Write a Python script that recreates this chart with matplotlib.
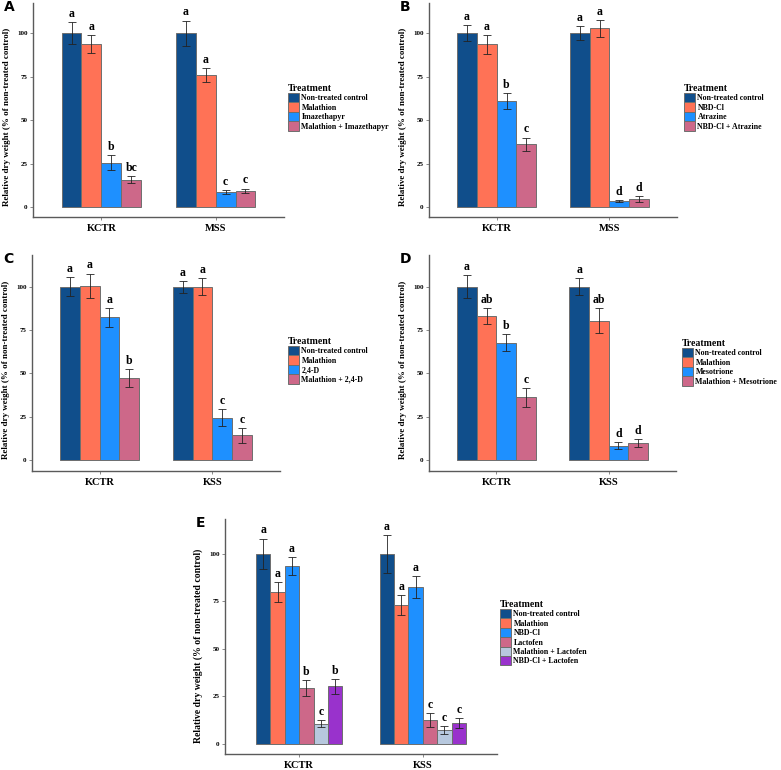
import matplotlib

matplotlib.use("Agg")
import matplotlib.pyplot as plt
import numpy as np
from matplotlib.patches import Patch

plt.rcParams["font.family"] = ["Liberation Serif", "DejaVu Serif"]
plt.rcParams["font.weight"] = "bold"

W, H = 781, 770

# ---- data (values in % of non-treated control) ----
a_sites = ["KCTR", "MSS"]
a_treat = ["Non-treated control", "Malathion", "Imazethapyr", "Malathion + Imazethapyr"]
a_mean = [[100, 94, 25.5, 15.8], [100, 75.8, 8.7, 9.4]]
a_err = [[6.3, 5.3, 4.5, 2.0], [7.4, 4.0, 1.0, 1.2]]
a_lett = [["a", "a", "b", "bc"], ["a", "a", "c", "c"]]

b_sites = ["KCTR", "MSS"]
b_treat = ["Non-treated control", "NBD-Cl", "Atrazine", "NBD-Cl + Atrazine"]
b_mean = [[100, 93.7, 61, 36], [100, 102.9, 3.3, 4.4]]
b_err = [[4.6, 5.5, 4.5, 4.0], [4.0, 5.0, 0.5, 1.8]]
b_lett = [["a", "a", "b", "c"], ["a", "a", "d", "d"]]

c_sites = ["KCTR", "KSS"]
c_treat = ["Non-treated control", "Malathion", "2,4-D", "Malathion + 2,4-D"]
c_mean = [[100, 100.6, 82.3, 47.1], [100, 100, 24.4, 14.4]]
c_err = [[5.5, 7.0, 5.5, 5.2], [3.5, 4.8, 4.8, 4.3]]
c_lett = [["a", "a", "a", "b"], ["a", "a", "c", "c"]]

d_sites = ["KCTR", "KSS"]
d_treat = ["Non-treated control", "Malathion", "Mesotrione", "Malathion + Mesotrione"]
d_mean = [[100, 83.1, 67.8, 36.2], [100, 80.5, 8.4, 9.8]]
d_err = [[6.5, 4.5, 5.0, 5.4], [5.0, 7.3, 1.8, 2.2]]
d_lett = [["a", "ab", "b", "c"], ["a", "ab", "d", "d"]]

e_sites = ["KCTR", "KSS"]
e_treat = ["Non-treated control", "Malathion", "NBD-Cl", "Lactofen",
           "Malathion + Lactofen", "NBD-Cl + Lactofen"]
e_mean = [[100, 79.8, 93.5, 29.3, 10.7, 30.3], [100, 73, 82.5, 12.6, 7.4, 11.1]]
e_err = [[8.0, 5.3, 4.7, 4.2, 2.0, 3.8], [9.8, 5.3, 5.8, 3.7, 2.0, 2.5]]
e_lett = [["a", "a", "a", "b", "c", "b"], ["a", "a", "a", "c", "c", "c"]]

colors = ["#104E8B", "#FF7256", "#1E90FF", "#CD6889", "#B7C8DE", "#9932CC"]
AXIS_COL = "#5a5a5a"


def px_axes(fig, left, top, right, bottom):
    return fig.add_axes([left / W, 1 - bottom / H, (right - left) / W, (bottom - top) / H])


def draw_panel(fig, box, sites, treat, means, errs, letters, ylim, tag, leg_xy,
               ylab_y=0.47, ylab_size=6.5):
    ax = px_axes(fig, *box)
    n = len(treat)
    group_w = 0.7
    bw = group_w / n
    x = np.arange(1, len(sites) + 1)
    means = np.asarray(means)
    errs = np.asarray(errs)
    for i in range(n):
        xi = x - group_w / 2 + bw * (i + 0.5)
        ax.bar(xi, means[:, i], width=bw, color=colors[i], edgecolor="#6e6e6e",
               linewidth=0.7, label=treat[i], zorder=2)
        ax.errorbar(xi, means[:, i], yerr=errs[:, i], fmt="none", ecolor="#222222",
                    elinewidth=0.6, capsize=2.6, capthick=0.6, zorder=3)
        for j in range(len(sites)):
            ax.text(xi[j], means[j, i] + errs[j, i] + 1.2, letters[j][i],
                    ha="center", va="bottom", fontsize=8.5, fontweight="bold")
    ax.set_xlim(0.4, len(sites) + 0.6)
    ax.set_ylim(*ylim)
    ax.set_xticks(x)
    ax.set_xticklabels(sites, fontsize=7.5, fontweight="bold")
    ax.set_yticks([0, 25, 50, 75, 100])
    ax.tick_params(axis="y", labelsize=5, length=2, width=0.5, color=AXIS_COL, pad=2)
    ax.tick_params(axis="x", length=2, width=0.5, color=AXIS_COL, pad=3)
    for s in ["top", "right"]:
        ax.spines[s].set_visible(False)
    for s in ["left", "bottom"]:
        ax.spines[s].set_color(AXIS_COL)
        ax.spines[s].set_linewidth(1.0)
    ax.set_ylabel("Relative dry weight (% of non-treated control)", fontsize=ylab_size,
                  fontweight="bold")
    # label's right edge sits ~22 px left of the y axis line
    ax.yaxis.set_label_coords(-22 / (box[2] - box[0]), ylab_y)
    handles = [Patch(facecolor=colors[i], edgecolor="#6e6e6e", linewidth=0.7, label=treat[i])
               for i in range(n)]
    leg = fig.legend(handles=handles, title="Treatment", loc="upper left",
                     bbox_to_anchor=(leg_xy[0] / W, 1 - leg_xy[1] / H), frameon=False,
                     fontsize=5.7, title_fontsize=7, handlelength=1.35, handleheight=1.45,
                     labelspacing=0.0, handletextpad=0.35, borderpad=0, borderaxespad=0)
    leg.get_title().set_fontweight("bold")
    leg._legend_box.align = "left"
    fig.text((box[0] - 29) / W, 1 - (box[1] + 4) / H, tag, family="DejaVu Sans",
             fontsize=10, fontweight="bold", ha="left", va="center")
    return ax


fig = plt.figure(figsize=(W / 100, H / 100), dpi=100)
ylim_top = (-5.8, 117.5)
draw_panel(fig, (33, 3, 284, 217), a_sites, a_treat, a_mean, a_err, a_lett, ylim_top, "A", (288, 84))
draw_panel(fig, (429, 3, 677, 217), b_sites, b_treat, b_mean, b_err, b_lett, ylim_top, "B", (684, 84))
draw_panel(fig, (32, 255, 280, 471), c_sites, c_treat, c_mean, c_err, c_lett, (-6.3, 118.3), "C", (288, 337))
draw_panel(fig, (429, 255, 676, 471), d_sites, d_treat, d_mean, d_err, d_lett, (-6.3, 118.3), "D", (682, 339))
draw_panel(fig, (225, 519, 497, 754), e_sites, e_treat, e_mean, e_err, e_lett, (-5.3, 118.4), "E", (500, 600),
           ylab_y=0.46, ylab_size=7)

fig.savefig("out.png", dpi=100)
